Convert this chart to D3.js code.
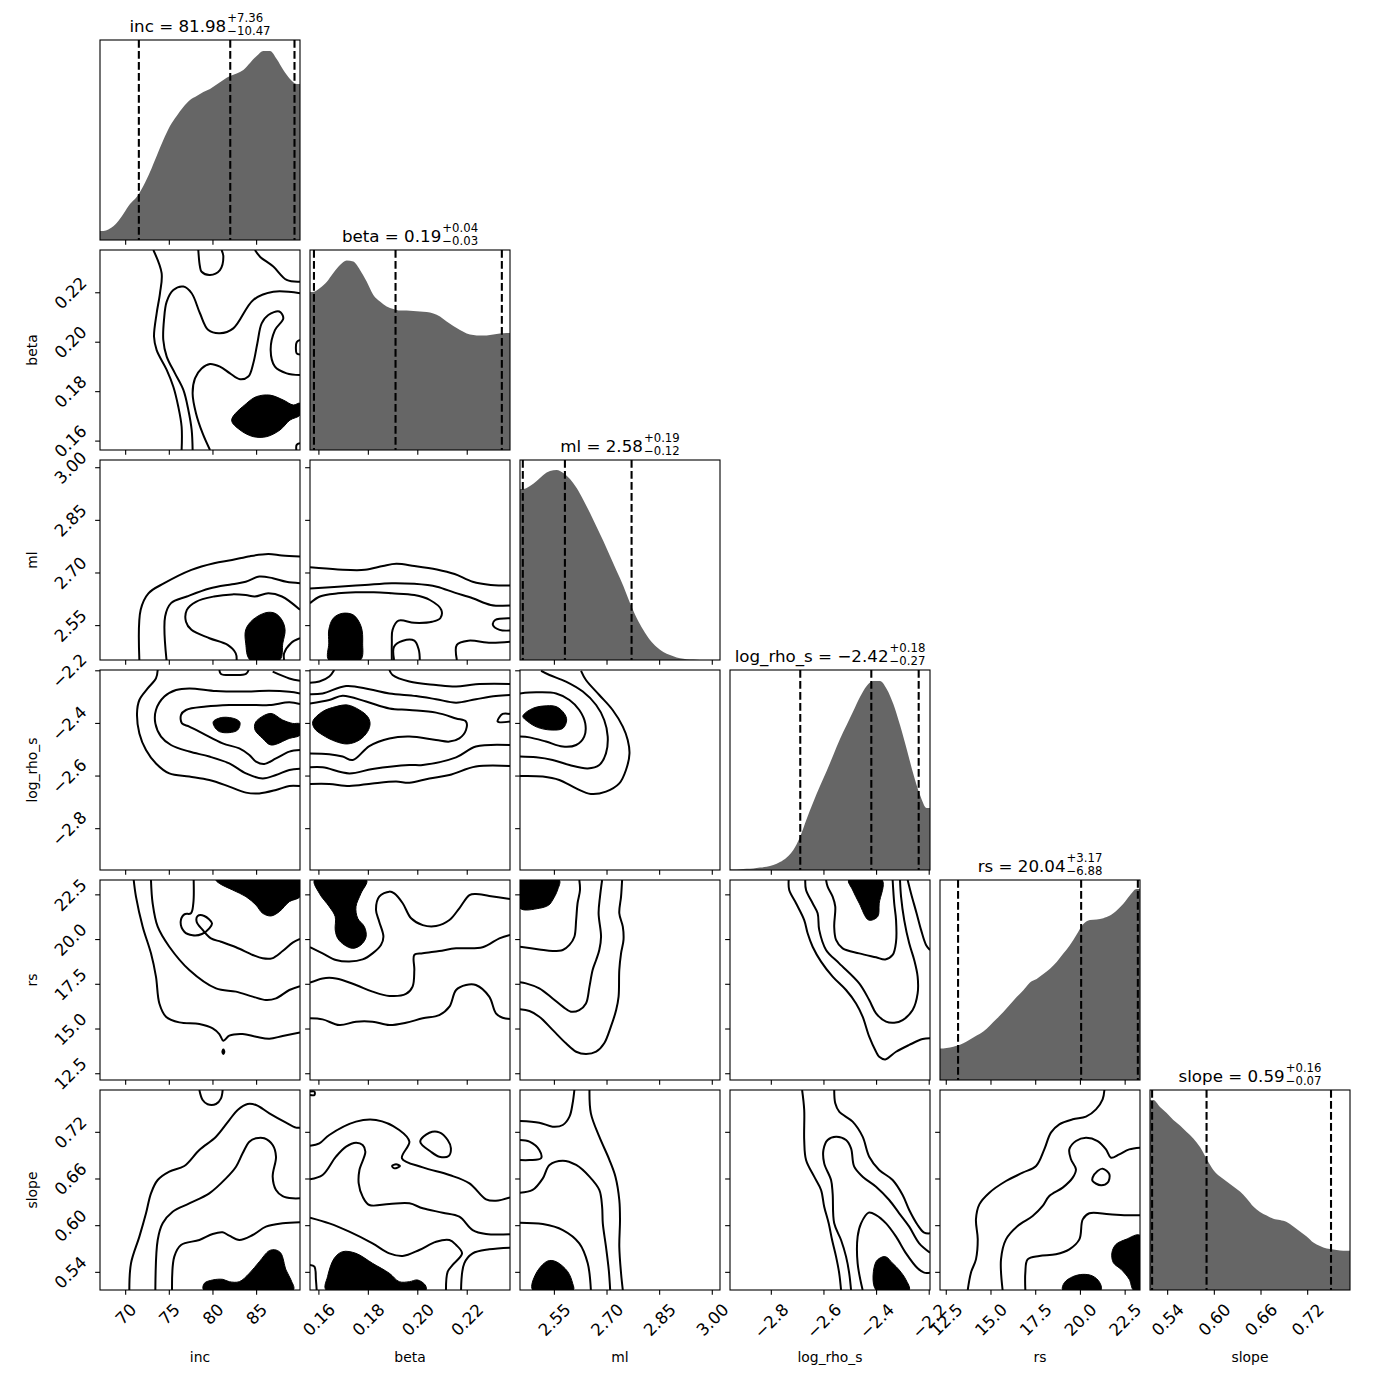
<!DOCTYPE html>
<html><head><meta charset="utf-8">
<script src="https://cdn.jsdelivr.net/npm/d3@7"></script>
<style>body{margin:0;background:#fff;} text{font-family:"DejaVu Sans",sans-serif;fill:#000;}</style>
</head><body>
<svg id="chart" width="1390" height="1390"></svg>
<script>
// ---------------- data ----------------
const params = ["inc", "beta", "ml", "log_rho_s", "rs", "slope"];
const ranges = [[67.06, 89.97], [0.1564, 0.2373], [2.452, 3.022], [-2.957, -2.197], [12.15, 23.33], [0.5173, 0.7744]];
const tickValues = [[70, 75, 80, 85], [0.16, 0.18, 0.20, 0.22], [2.55, 2.70, 2.85, 3.00], [-2.8, -2.6, -2.4, -2.2], [12.5, 15.0, 17.5, 20.0, 22.5], [0.54, 0.60, 0.66, 0.72]];
const tickLabels = [["70", "75", "80", "85"], ["0.16", "0.18", "0.20", "0.22"], ["2.55", "2.70", "2.85", "3.00"], ["\u22122.8", "\u22122.6", "\u22122.4", "\u22122.2"], ["12.5", "15.0", "17.5", "20.0", "22.5"], ["0.54", "0.60", "0.66", "0.72"]];
const titleMedian = ["81.98", "0.19", "2.58", "\u22122.42", "20.04", "0.59"];
const titlePlus = ["+7.36", "+0.04", "+0.19", "+0.18", "+3.17", "+0.16"];
const titleMinus = ["\u221210.47", "\u22120.03", "\u22120.12", "\u22120.27", "\u22126.88", "\u22120.07"];

const q_inc = [71.51, 81.98, 89.34];
const q_beta = [0.158, 0.191, 0.234];
const q_ml = [2.46, 2.58, 2.77];
const q_log = [-2.69, -2.42, -2.24];
const q_rs = [13.16, 20.04, 23.21];
const q_slope = [0.52, 0.59, 0.75];

// relative histogram heights (30 equal bins over each range)
const hist_inc = [0.045,0.057,0.085,0.13,0.18,0.215,0.27,0.34,0.42,0.50,0.57,0.62,0.665,0.70,0.72,0.74,0.755,0.777,0.80,0.82,0.833,0.85,0.885,0.92,0.945,0.945,0.905,0.85,0.805,0.78];
const hist_beta = [0.79,0.81,0.84,0.885,0.925,0.948,0.942,0.90,0.842,0.775,0.742,0.717,0.705,0.697,0.697,0.695,0.693,0.69,0.683,0.667,0.642,0.62,0.60,0.583,0.575,0.572,0.573,0.577,0.582,0.585];
const hist_ml = [0.855,0.87,0.895,0.925,0.945,0.95,0.935,0.905,0.86,0.80,0.735,0.665,0.595,0.52,0.445,0.37,0.285,0.21,0.15,0.10,0.065,0.04,0.025,0.013,0.006,0.002,0.001,0,0,0];
const hist_log = [0.003,0.004,0.006,0.008,0.012,0.016,0.025,0.04,0.063,0.10,0.165,0.255,0.34,0.42,0.495,0.575,0.655,0.725,0.795,0.865,0.92,0.945,0.945,0.905,0.83,0.725,0.605,0.48,0.375,0.31];
const hist_rs = [0.158,0.162,0.171,0.184,0.202,0.222,0.243,0.273,0.306,0.34,0.377,0.415,0.449,0.488,0.505,0.53,0.556,0.59,0.632,0.675,0.728,0.78,0.80,0.803,0.809,0.822,0.848,0.881,0.924,0.955];
const hist_slope = [0.95,0.915,0.885,0.85,0.822,0.79,0.758,0.715,0.655,0.60,0.567,0.543,0.518,0.492,0.458,0.418,0.39,0.372,0.356,0.35,0.34,0.318,0.293,0.268,0.238,0.22,0.207,0.203,0.198,0.196];

// contour lines [x, y] in data units (x = column parameter, y = row parameter)
const lines_beta_inc = [
 [[73.17,0.2373],[74.12,0.2279],[73.93,0.2198],[73.55,0.2117],[73.25,0.2022],[73.55,0.1968],[74.70,0.1888],[75.46,0.1820],[76.03,0.1739],[76.41,0.1658],[76.41,0.1564]],
 [[89.97,0.2198],[86.91,0.2204],[84.62,0.2171],[82.33,0.2056],[80.80,0.2036],[79.47,0.2049],[78.51,0.2117],[77.56,0.2198],[76.61,0.2225],[75.46,0.2211],[74.70,0.2164],[74.39,0.2090],[74.31,0.2009],[74.70,0.1942],[75.65,0.1874],[76.61,0.1807],[77.18,0.1726],[77.56,0.1645],[77.67,0.1564]],
 [[89.97,0.1867],[88.44,0.1874],[87.10,0.1901],[86.61,0.1968],[87.10,0.2049],[88.06,0.2097],[87.60,0.2124],[86.34,0.2110],[85.58,0.2076],[85.08,0.1995],[84.62,0.1915],[84.05,0.1861],[83.10,0.1850],[81.95,0.1874],[80.80,0.1901],[79.66,0.1912],[78.70,0.1894],[77.94,0.1854],[77.67,0.1793],[78.06,0.1712],[78.82,0.1631],[79.66,0.1564]],
 [[78.32,0.2373],[78.51,0.2306],[78.70,0.2285],[79.66,0.2272],[80.80,0.2292],[81.19,0.2346],[80.99,0.2373]],
 [[84.81,0.2373],[85.39,0.2346],[86.91,0.2306],[88.44,0.2252],[89.97,0.2245]],
 [[89.97,0.2009],[89.59,0.2000],[89.50,0.1975],[89.59,0.1955],[89.97,0.1950]],
 [[89.97,0.1591],[89.59,0.1585],[89.55,0.1564]]
];
const fills_beta_inc = [
 [[82.14,0.1685],[83.86,0.1753],[85.00,0.1780],[86.53,0.1786],[88.06,0.1766],[89.20,0.1746],[89.97,0.1753],[89.97,0.1706],[88.82,0.1685],[87.68,0.1645],[86.15,0.1618],[84.62,0.1618],[83.10,0.1645]]
];

const lines_ml_inc = [
 [[71.57,2.452],[71.72,2.595],[72.61,2.642],[74.42,2.671],[77.53,2.709],[80.12,2.728],[82.19,2.737],[84.27,2.748],[86.34,2.754],[87.90,2.750],[89.97,2.747]],
 [[74.68,2.452],[74.52,2.576],[75.20,2.614],[77.01,2.633],[79.60,2.656],[82.19,2.668],[83.75,2.675],[85.30,2.690],[86.86,2.685],[88.41,2.675],[89.97,2.671]],
 [[89.97,2.595],[87.90,2.633],[86.34,2.642],[84.79,2.633],[83.75,2.637],[82.19,2.639],[80.12,2.633],[78.05,2.618],[77.01,2.595],[76.91,2.561],[77.53,2.538],[79.60,2.514],[81.68,2.495],[82.61,2.471],[82.71,2.452]],
 [[89.97,2.514],[88.93,2.500],[88.15,2.471],[88.15,2.452]]
];
const fills_ml_inc = [
 [[83.75,2.538],[84.53,2.566],[86.08,2.587],[87.12,2.585],[87.90,2.566],[88.26,2.538],[88.00,2.500],[87.64,2.452],[84.27,2.452],[83.75,2.500]]
];

const lines_ml_beta = [
 [[0.1564,2.716],[0.1677,2.710],[0.1786,2.709],[0.1859,2.720],[0.1913,2.726],[0.1986,2.720],[0.2077,2.710],[0.2149,2.697],[0.2222,2.675],[0.2295,2.666],[0.2373,2.664]],
 [[0.1564,2.656],[0.1677,2.661],[0.1786,2.666],[0.1895,2.671],[0.1986,2.669],[0.2077,2.661],[0.2149,2.644],[0.2222,2.628],[0.2295,2.609],[0.2373,2.607]],
 [[0.1564,2.614],[0.1604,2.633],[0.1677,2.642],[0.1749,2.645],[0.1822,2.645],[0.1895,2.642],[0.1986,2.637],[0.2049,2.623],[0.2095,2.595],[0.2091,2.571],[0.2058,2.561],[0.1986,2.558],[0.1922,2.564],[0.1898,2.538],[0.1895,2.500],[0.1895,2.452]],
 [[0.1904,2.452],[0.1904,2.490],[0.1940,2.507],[0.1986,2.507],[0.2004,2.481],[0.2008,2.452]],
 [[0.2158,2.452],[0.2158,2.495],[0.2204,2.507],[0.2295,2.501],[0.2373,2.504]],
 [[0.2373,2.571],[0.2313,2.566],[0.2304,2.552],[0.2331,2.538],[0.2373,2.536]]
];
const fills_ml_beta = [
 [[0.1640,2.538],[0.1658,2.571],[0.1695,2.585],[0.1740,2.580],[0.1771,2.547],[0.1777,2.500],[0.1768,2.452],[0.1640,2.452],[0.1640,2.500]]
];

const lines_log_inc = [
 [[73.67,-2.197],[73.47,-2.229],[72.52,-2.267],[71.57,-2.311],[71.30,-2.362],[71.57,-2.438],[72.33,-2.501],[73.47,-2.552],[75.00,-2.590],[77.29,-2.602],[79.58,-2.615],[81.87,-2.640],[83.78,-2.663],[85.31,-2.666],[87.22,-2.653],[88.75,-2.638],[89.97,-2.638]],
 [[89.97,-2.286],[88.75,-2.280],[86.46,-2.276],[83.40,-2.279],[80.35,-2.277],[77.29,-2.267],[75.77,-2.273],[74.43,-2.298],[73.47,-2.349],[73.40,-2.400],[74.05,-2.450],[75.19,-2.482],[77.29,-2.507],[79.58,-2.526],[81.87,-2.552],[83.78,-2.590],[85.69,-2.609],[87.22,-2.596],[88.75,-2.577],[89.97,-2.572]],
 [[89.97,-2.326],[88.75,-2.320],[86.46,-2.330],[84.17,-2.330],[81.87,-2.330],[79.20,-2.336],[76.91,-2.349],[76.34,-2.368],[76.45,-2.400],[77.29,-2.412],[78.82,-2.438],[81.11,-2.476],[83.02,-2.495],[84.17,-2.520],[84.93,-2.545],[85.88,-2.554],[87.22,-2.533],[88.75,-2.507],[89.97,-2.501]],
 [[86.84,-2.203],[88.75,-2.229],[89.97,-2.238]],
 [[80.73,-2.197],[80.92,-2.212],[82.26,-2.216],[83.78,-2.212],[84.09,-2.197]]
];
const fills_log_inc = [
 [[80.04,-2.393],[81.11,-2.377],[82.64,-2.384],[83.10,-2.397],[82.83,-2.425],[81.87,-2.435],[80.73,-2.431],[80.16,-2.412]],
 [[84.82,-2.400],[85.31,-2.381],[86.65,-2.362],[87.98,-2.387],[89.13,-2.400],[89.97,-2.402],[89.97,-2.444],[88.75,-2.457],[86.65,-2.482],[85.69,-2.457],[84.82,-2.425]]
];

const lines_log_beta = [
 [[0.1564,-2.245],[0.1602,-2.241],[0.1642,-2.222],[0.1662,-2.197]],
 [[0.1885,-2.197],[0.1898,-2.216],[0.1966,-2.241],[0.2074,-2.254],[0.2155,-2.260],[0.2235,-2.251],[0.2373,-2.250]],
 [[0.1564,-2.630],[0.1642,-2.630],[0.1723,-2.638],[0.1817,-2.628],[0.1912,-2.621],[0.1966,-2.625],[0.2047,-2.609],[0.2128,-2.596],[0.2235,-2.564],[0.2373,-2.562]],
 [[0.1564,-2.289],[0.1615,-2.286],[0.1710,-2.258],[0.1804,-2.270],[0.1885,-2.286],[0.1993,-2.296],[0.2074,-2.308],[0.2155,-2.321],[0.2235,-2.308],[0.2316,-2.296],[0.2373,-2.292]],
 [[0.1564,-2.567],[0.1615,-2.567],[0.1723,-2.590],[0.1817,-2.573],[0.1966,-2.558],[0.2020,-2.558],[0.2155,-2.529],[0.2235,-2.488],[0.2373,-2.482]],
 [[0.1564,-2.324],[0.1642,-2.311],[0.1696,-2.295],[0.1791,-2.317],[0.1885,-2.343],[0.1966,-2.349],[0.2074,-2.359],[0.2155,-2.381],[0.2195,-2.393],[0.2195,-2.425],[0.2168,-2.457],[0.2128,-2.469],[0.2074,-2.463],[0.1966,-2.450],[0.1885,-2.457],[0.1804,-2.486],[0.1737,-2.539],[0.1696,-2.526],[0.1642,-2.517],[0.1564,-2.514]],
 [[0.2373,-2.364],[0.2343,-2.364],[0.2323,-2.393],[0.2373,-2.393]]
];
const fills_log_beta = [
 [[0.1575,-2.393],[0.1615,-2.355],[0.1669,-2.336],[0.1716,-2.330],[0.1764,-2.349],[0.1797,-2.374],[0.1807,-2.400],[0.1797,-2.431],[0.1764,-2.463],[0.1716,-2.478],[0.1669,-2.469],[0.1615,-2.444],[0.1582,-2.419]]
];

const lines_log_ml = [
 [[2.626,-2.200],[2.640,-2.235],[2.678,-2.292],[2.716,-2.349],[2.745,-2.412],[2.759,-2.463],[2.764,-2.514],[2.754,-2.577],[2.735,-2.628],[2.697,-2.659],[2.654,-2.668],[2.612,-2.647],[2.564,-2.615],[2.517,-2.602],[2.452,-2.600]],
 [[2.512,-2.200],[2.536,-2.216],[2.583,-2.241],[2.631,-2.279],[2.669,-2.330],[2.692,-2.387],[2.702,-2.450],[2.697,-2.514],[2.678,-2.558],[2.645,-2.571],[2.593,-2.558],[2.545,-2.539],[2.498,-2.529],[2.452,-2.526]],
 [[2.452,-2.286],[2.498,-2.282],[2.555,-2.286],[2.593,-2.311],[2.621,-2.349],[2.638,-2.400],[2.635,-2.450],[2.612,-2.482],[2.574,-2.488],[2.526,-2.469],[2.479,-2.453],[2.452,-2.450]]
];
const fills_log_ml = [
 [[2.464,-2.364],[2.488,-2.343],[2.517,-2.334],[2.555,-2.336],[2.578,-2.362],[2.585,-2.387],[2.574,-2.419],[2.540,-2.425],[2.502,-2.415],[2.474,-2.393],[2.460,-2.374]]
];

const lines_rs_inc = [
 [[70.92,23.33],[71.18,22.40],[71.95,20.72],[72.90,19.23],[73.47,17.93],[73.86,16.43],[74.62,15.69],[76.15,15.37],[78.44,15.28],[79.97,15.04],[80.73,14.72],[81.19,14.35],[81.87,14.63],[83.40,14.72],[84.93,14.57],[86.46,14.46],[87.98,14.61],[89.97,14.80]],
 [[81.19,13.86],[81.30,13.73],[81.19,13.60],[81.08,13.73],[81.19,13.86]],
 [[72.90,23.33],[73.09,22.03],[73.67,20.72],[75.00,19.60],[77.29,18.30],[80.35,17.27],[82.64,17.09],[84.55,16.81],[86.07,16.62],[87.22,16.71],[88.75,17.18],[89.97,17.40]],
 [[77.79,23.33],[77.75,22.03],[77.48,21.47],[76.72,21.41],[76.30,21.00],[76.72,20.44],[77.67,20.24],[78.74,20.31],[79.58,20.63],[79.89,20.91],[79.01,21.32],[78.25,21.32],[78.13,21.00],[78.82,20.54],[79.77,20.07],[80.92,19.88],[82.64,19.57],[84.55,19.14],[85.69,18.95],[86.76,18.95],[87.98,19.36],[89.13,19.83],[89.97,20.03]]
];
const fills_rs_inc = [
 [[80.35,23.33],[80.73,23.14],[82.26,22.77],[83.78,22.40],[84.93,21.93],[85.69,21.47],[86.65,21.32],[87.60,21.56],[88.75,22.12],[89.97,22.40],[89.97,23.33]]
];

const lines_rs_beta = [
 [[0.1564,19.57],[0.1615,19.23],[0.1669,18.86],[0.1723,18.77],[0.1777,18.89],[0.1817,19.23],[0.1851,19.70],[0.1861,20.16],[0.1844,21.00],[0.1831,21.65],[0.1844,22.40],[0.1885,22.68],[0.1905,22.58],[0.1939,22.03],[0.1973,21.19],[0.2020,20.81],[0.2074,20.76],[0.2128,21.09],[0.2168,21.75],[0.2209,22.49],[0.2235,22.55],[0.2289,22.44],[0.2373,22.27]],
 [[0.1564,17.59],[0.1615,17.83],[0.1669,17.83],[0.1750,17.46],[0.1817,17.09],[0.1885,16.85],[0.1952,16.96],[0.1979,17.37],[0.1986,18.30],[0.1986,19.14],[0.2020,19.23],[0.2087,19.36],[0.2155,19.51],[0.2262,19.57],[0.2330,20.07],[0.2373,20.26]],
 [[0.1564,15.60],[0.1615,15.54],[0.1683,15.22],[0.1750,15.41],[0.1817,15.41],[0.1885,15.22],[0.1952,15.35],[0.2020,15.60],[0.2087,15.78],[0.2128,16.25],[0.2155,17.18],[0.2195,17.46],[0.2235,17.46],[0.2289,16.81],[0.2316,15.88],[0.2343,15.63],[0.2373,15.56]]
];
const fills_rs_beta = [
 [[0.1582,23.33],[0.1602,22.58],[0.1642,21.84],[0.1666,21.28],[0.1666,20.54],[0.1676,20.07],[0.1703,19.70],[0.1737,19.51],[0.1770,19.70],[0.1791,20.16],[0.1784,20.72],[0.1757,21.19],[0.1750,21.84],[0.1770,22.58],[0.1793,23.33]]
];

const lines_rs_ml = [
 [[2.621,23.33],[2.623,22.77],[2.616,22.03],[2.612,21.09],[2.607,20.16],[2.593,19.70],[2.574,19.42],[2.545,19.36],[2.507,19.45],[2.452,19.60]],
 [[2.686,23.33],[2.680,22.40],[2.676,21.47],[2.683,20.16],[2.678,19.42],[2.669,18.86],[2.659,18.30],[2.650,17.37],[2.640,16.43],[2.621,16.06],[2.597,15.97],[2.574,16.25],[2.545,16.71],[2.507,17.27],[2.469,17.55],[2.452,17.61]],
 [[2.743,23.33],[2.740,22.40],[2.735,21.47],[2.745,20.72],[2.747,19.98],[2.740,19.23],[2.735,18.30],[2.733,16.81],[2.726,16.06],[2.711,15.13],[2.692,14.20],[2.669,13.73],[2.640,13.60],[2.612,13.73],[2.583,14.20],[2.545,14.95],[2.507,15.69],[2.479,16.01],[2.452,16.10]]
];
const fills_rs_ml = [
 [[2.452,23.33],[2.564,23.33],[2.559,22.77],[2.545,22.21],[2.534,21.93],[2.507,21.75],[2.452,21.75]]
];

const lines_rs_log = [
 [[-2.592,23.33],[-2.586,22.96],[-2.567,22.40],[-2.557,21.84],[-2.561,20.72],[-2.554,19.98],[-2.529,19.51],[-2.466,19.23],[-2.402,19.01],[-2.367,18.89],[-2.339,19.14],[-2.326,19.88],[-2.326,21.09],[-2.333,22.03],[-2.339,23.33]],
 [[-2.671,23.33],[-2.668,22.77],[-2.643,22.03],[-2.624,21.47],[-2.618,20.54],[-2.592,19.42],[-2.542,18.67],[-2.466,17.55],[-2.428,16.62],[-2.402,15.88],[-2.364,15.41],[-2.333,15.35],[-2.301,15.50],[-2.263,16.06],[-2.244,16.99],[-2.244,17.93],[-2.257,18.86],[-2.276,19.79],[-2.295,21.09],[-2.307,22.40],[-2.311,23.33]],
 [[-2.734,23.33],[-2.732,22.77],[-2.706,22.03],[-2.675,21.09],[-2.662,20.35],[-2.643,19.60],[-2.611,18.77],[-2.567,17.93],[-2.516,17.18],[-2.478,16.43],[-2.453,15.69],[-2.428,14.57],[-2.402,13.73],[-2.390,13.45],[-2.367,13.30],[-2.326,13.73],[-2.276,14.11],[-2.225,14.44],[-2.197,14.48]],
 [[-2.282,23.33],[-2.269,22.58],[-2.248,21.47],[-2.231,20.54],[-2.212,19.70],[-2.197,19.42]]
];
const fills_rs_log = [
 [[-2.506,23.33],[-2.491,22.77],[-2.466,22.03],[-2.430,21.09],[-2.396,21.28],[-2.390,22.03],[-2.379,23.33]]
];

const lines_slope_inc = [
 [[78.44,0.7744],[78.82,0.7615],[79.39,0.7560],[80.35,0.7564],[80.92,0.7637],[81.11,0.7744]],
 [[70.42,0.5173],[70.61,0.5516],[71.57,0.5859],[72.33,0.6159],[72.90,0.6416],[73.67,0.6587],[75.00,0.6694],[76.72,0.6767],[78.44,0.6973],[80.35,0.7144],[81.87,0.7358],[82.83,0.7487],[83.97,0.7564],[84.93,0.7551],[86.46,0.7444],[88.37,0.7324],[89.51,0.7260],[89.97,0.7260]],
 [[73.40,0.5173],[73.67,0.5816],[74.24,0.6030],[75.38,0.6180],[77.29,0.6287],[79.58,0.6416],[81.49,0.6608],[82.64,0.6758],[83.40,0.6930],[84.17,0.7080],[84.93,0.7123],[85.88,0.7123],[86.84,0.7037],[87.22,0.6887],[86.84,0.6630],[87.22,0.6459],[87.98,0.6381],[89.13,0.6351],[89.97,0.6351]],
 [[75.31,0.5173],[75.57,0.5602],[76.34,0.5752],[78.44,0.5816],[79.97,0.5893],[81.11,0.5914],[81.87,0.5871],[83.02,0.5816],[84.55,0.5880],[86.07,0.5987],[87.98,0.6030],[89.97,0.6043]]
];
const fills_slope_inc = [
 [[78.93,0.5173],[79.01,0.5259],[79.97,0.5302],[81.11,0.5310],[81.87,0.5280],[83.02,0.5280],[84.17,0.5388],[85.31,0.5537],[86.46,0.5679],[87.22,0.5687],[87.79,0.5644],[88.37,0.5430],[88.94,0.5302],[89.21,0.5173]]
];

const lines_slope_beta = [
 [[0.1564,0.7723],[0.1582,0.7723],[0.1582,0.7680],[0.1564,0.7680]],
 [[0.1564,0.7028],[0.1602,0.7058],[0.1642,0.7166],[0.1750,0.7337],[0.1831,0.7358],[0.1925,0.7230],[0.1966,0.7080],[0.1936,0.6866],[0.2020,0.6750],[0.2128,0.6651],[0.2209,0.6544],[0.2276,0.6339],[0.2316,0.6321],[0.2373,0.6364]],
 [[0.1564,0.6596],[0.1615,0.6651],[0.1669,0.6887],[0.1710,0.7016],[0.1750,0.7067],[0.1777,0.7037],[0.1788,0.6951],[0.1764,0.6716],[0.1761,0.6544],[0.1777,0.6373],[0.1804,0.6266],[0.1885,0.6279],[0.1966,0.6287],[0.2020,0.6223],[0.2101,0.6167],[0.2168,0.6116],[0.2222,0.5944],[0.2276,0.5893],[0.2373,0.5889]],
 [[0.1564,0.6103],[0.1642,0.6030],[0.1723,0.5923],[0.1817,0.5773],[0.1885,0.5644],[0.1939,0.5610],[0.2006,0.5687],[0.2074,0.5794],[0.2128,0.5816],[0.2155,0.5752],[0.2179,0.5644],[0.2141,0.5495],[0.2121,0.5409],[0.2114,0.5173]],
 [[0.2175,0.5173],[0.2188,0.5516],[0.2222,0.5644],[0.2289,0.5696],[0.2373,0.5717]],
 [[0.1564,0.5495],[0.1582,0.5473],[0.1588,0.5302],[0.1591,0.5173]],
 [[0.2010,0.7080],[0.2047,0.7195],[0.2087,0.7200],[0.2121,0.7101],[0.2134,0.6994],[0.2125,0.6896],[0.2087,0.6887],[0.2053,0.6951],[0.2010,0.7080]],
 [[0.1896,0.6767],[0.1912,0.6788],[0.1928,0.6767],[0.1905,0.6737],[0.1896,0.6767]]
];
const fills_slope_beta = [
 [[0.1629,0.5173],[0.1635,0.5345],[0.1662,0.5580],[0.1696,0.5666],[0.1750,0.5644],[0.1817,0.5516],[0.1885,0.5388],[0.1925,0.5280],[0.1966,0.5280],[0.1999,0.5302],[0.2030,0.5237],[0.2033,0.5173]]
];

const lines_slope_ml = [
 [[2.650,0.7744],[2.654,0.7444],[2.678,0.7144],[2.707,0.6844],[2.724,0.6630],[2.735,0.6330],[2.737,0.6073],[2.735,0.5730],[2.740,0.5388],[2.745,0.5173]],
 [[2.607,0.7744],[2.602,0.7573],[2.593,0.7401],[2.574,0.7294],[2.545,0.7273],[2.507,0.7324],[2.452,0.7346]],
 [[2.452,0.6424],[2.488,0.6459],[2.517,0.6608],[2.536,0.6780],[2.574,0.6836],[2.612,0.6780],[2.650,0.6630],[2.678,0.6459],[2.686,0.6244],[2.688,0.6030],[2.697,0.5730],[2.705,0.5430],[2.709,0.5173]],
 [[2.452,0.7101],[2.479,0.7080],[2.507,0.6973],[2.512,0.6866],[2.479,0.6844],[2.452,0.6844]],
 [[2.452,0.6039],[2.517,0.6021],[2.574,0.5944],[2.621,0.5773],[2.645,0.5516],[2.654,0.5173]]
];
const fills_slope_ml = [
 [[2.488,0.5173],[2.498,0.5388],[2.531,0.5546],[2.555,0.5537],[2.588,0.5409],[2.602,0.5259],[2.604,0.5173]]
];

const lines_slope_log = [
 [[-2.683,0.7744],[-2.675,0.7487],[-2.675,0.7101],[-2.668,0.6844],[-2.637,0.6630],[-2.611,0.6459],[-2.599,0.6244],[-2.582,0.6030],[-2.569,0.5816],[-2.554,0.5602],[-2.542,0.5388],[-2.535,0.5173]],
 [[-2.561,0.7744],[-2.557,0.7573],[-2.542,0.7465],[-2.491,0.7337],[-2.453,0.7144],[-2.428,0.6887],[-2.390,0.6716],[-2.339,0.6587],[-2.301,0.6394],[-2.276,0.6201],[-2.244,0.6009],[-2.219,0.5910],[-2.197,0.5901]],
 [[-2.497,0.5173],[-2.504,0.5388],[-2.516,0.5602],[-2.535,0.5816],[-2.561,0.6030],[-2.567,0.6416],[-2.573,0.6587],[-2.599,0.6801],[-2.602,0.6973],[-2.586,0.7101],[-2.554,0.7144],[-2.516,0.7101],[-2.497,0.6994],[-2.485,0.6758],[-2.453,0.6630],[-2.402,0.6501],[-2.352,0.6330],[-2.314,0.6159],[-2.276,0.5987],[-2.238,0.5773],[-2.197,0.5653]],
 [[-2.453,0.5173],[-2.472,0.5516],[-2.472,0.5859],[-2.459,0.6030],[-2.430,0.6167],[-2.402,0.6137],[-2.364,0.6030],[-2.326,0.5859],[-2.288,0.5644],[-2.244,0.5452],[-2.219,0.5396],[-2.197,0.5396]]
];
const fills_slope_log = [
 [[-2.402,0.5173],[-2.402,0.5537],[-2.367,0.5602],[-2.339,0.5516],[-2.314,0.5430],[-2.288,0.5302],[-2.276,0.5173]]
];

const lines_slope_rs = [
 [[21.34,0.7744],[21.24,0.7624],[20.87,0.7495],[20.31,0.7401],[19.57,0.7367],[18.82,0.7303],[18.35,0.7196],[17.98,0.6981],[17.52,0.6767],[16.77,0.6681],[15.84,0.6574],[14.91,0.6424],[14.35,0.6274],[14.16,0.6081],[14.26,0.5824],[14.16,0.5567],[13.88,0.5396],[13.70,0.5173]],
 [[15.65,0.5173],[15.56,0.5567],[15.84,0.5824],[16.49,0.5996],[17.33,0.6124],[17.89,0.6253],[18.26,0.6381],[19.01,0.6489],[19.57,0.6617],[19.75,0.6724],[19.47,0.6853],[19.38,0.6981],[19.75,0.7088],[20.31,0.7131],[20.96,0.7088],[21.43,0.6981],[21.71,0.6874],[22.17,0.6917],[22.73,0.6981],[23.33,0.7003]],
 [[16.92,0.5173],[16.92,0.5396],[17.05,0.5567],[17.70,0.5610],[18.63,0.5632],[19.38,0.5696],[19.94,0.5824],[20.13,0.6081],[20.50,0.6159],[21.62,0.6146],[22.73,0.6133],[23.33,0.6133]],
 [[20.68,0.6617],[20.96,0.6703],[21.24,0.6733],[21.62,0.6660],[21.52,0.6553],[21.15,0.6519],[20.68,0.6574],[20.68,0.6617]]
];
const fills_slope_rs = [
 [[23.33,0.5876],[22.55,0.5824],[21.99,0.5760],[21.76,0.5653],[21.84,0.5524],[22.27,0.5439],[22.73,0.5310],[22.96,0.5173],[23.33,0.5173]],
 [[19.01,0.5173],[19.10,0.5267],[19.57,0.5344],[20.13,0.5374],[20.68,0.5353],[21.06,0.5276],[21.15,0.5173]]
];

// ---------------- layout ----------------
const P = 200, GAP = 10, LEFT = 100, TOP = 40;
const FS = 13.9, TICK_FS = 16.7, TITLE_FS = 16.7, SCRIPT_FS = 11.7, TICK = 4.86, PAD = 4.86;
const colX = i => LEFT + i * (P + GAP);
const rowY = j => TOP + j * (P + GAP);

const hists = [hist_inc, hist_beta, hist_ml, hist_log, hist_rs, hist_slope];
const quants = [q_inc, q_beta, q_ml, q_log, q_rs, q_slope];
const panels = [
  {r:1,c:0,lines:lines_beta_inc,fills:fills_beta_inc},
  {r:2,c:0,lines:lines_ml_inc,fills:fills_ml_inc},
  {r:2,c:1,lines:lines_ml_beta,fills:fills_ml_beta},
  {r:3,c:0,lines:lines_log_inc,fills:fills_log_inc},
  {r:3,c:1,lines:lines_log_beta,fills:fills_log_beta},
  {r:3,c:2,lines:lines_log_ml,fills:fills_log_ml},
  {r:4,c:0,lines:lines_rs_inc,fills:fills_rs_inc},
  {r:4,c:1,lines:lines_rs_beta,fills:fills_rs_beta},
  {r:4,c:2,lines:lines_rs_ml,fills:fills_rs_ml},
  {r:4,c:3,lines:lines_rs_log,fills:fills_rs_log},
  {r:5,c:0,lines:lines_slope_inc,fills:fills_slope_inc},
  {r:5,c:1,lines:lines_slope_beta,fills:fills_slope_beta},
  {r:5,c:2,lines:lines_slope_ml,fills:fills_slope_ml},
  {r:5,c:3,lines:lines_slope_log,fills:fills_slope_log},
  {r:5,c:4,lines:lines_slope_rs,fills:fills_slope_rs}
];

const svg = d3.select("#chart");
svg.append("rect").attr("width",1390).attr("height",1390).attr("fill","#fff");
const defs = svg.append("defs");

function xScale(c){ return d3.scaleLinear().domain(ranges[c]).range([colX(c), colX(c)+P]); }
function yScale(r){ return d3.scaleLinear().domain(ranges[r]).range([rowY(r)+P, rowY(r)]); }

function clipFor(r,c){
  const id = `clip-${r}-${c}`;
  defs.append("clipPath").attr("id", id).append("rect")
    .attr("x", colX(c)).attr("y", rowY(r)).attr("width", P).attr("height", P);
  return `url(#${id})`;
}

function drawFrame(r, c, x, y, withY){
  const g = svg.append("g");
  const x0 = colX(c), y0 = rowY(r);
  tickValues[c].forEach(v => {
    g.append("line").attr("x1", x(v)).attr("x2", x(v)).attr("y1", y0+P).attr("y2", y0+P+TICK)
      .attr("stroke","#000").attr("stroke-width",1.1);
  });
  if (withY) {
    tickValues[r].forEach(v => {
      g.append("line").attr("y1", y(v)).attr("y2", y(v)).attr("x1", x0).attr("x2", x0-TICK)
        .attr("stroke","#000").attr("stroke-width",1.1);
    });
  }
  g.append("rect").attr("x", x0).attr("y", y0).attr("width", P).attr("height", P)
    .attr("fill","none").attr("stroke","#000").attr("stroke-width",1.1);
}

// ---- diagonal histograms ----
for (let i = 0; i < 6; i++) {
  const x = xScale(i);
  const y = d3.scaleLinear().domain([0, 1]).range([rowY(i)+P, rowY(i)]);
  const vals = hists[i];
  const [lo, hi] = ranges[i];
  const step = (hi - lo) / vals.length;
  const pts = [[lo, vals[0]]].concat(vals.map((v, k) => [lo + (k + 0.5) * step, v]), [[hi, vals[vals.length-1]]]);
  const g = svg.append("g").attr("clip-path", clipFor(i, i));
  g.append("path").datum(pts)
    .attr("d", d3.area().x(d => x(d[0])).y0(y(0)).y1(d => y(d[1])).curve(d3.curveMonotoneX))
    .attr("fill", "#666666");
  quants[i].forEach(q => {
    g.append("line").attr("x1", x(q)).attr("x2", x(q)).attr("y1", rowY(i)).attr("y2", rowY(i)+P)
      .attr("stroke", "#000").attr("stroke-width", 2.08).attr("stroke-dasharray", "7.7,3.3");
  });
  drawFrame(i, i, x, y, false);

  // title
  const cx = colX(i) + P/2, by = rowY(i);
  const tg = svg.append("g");
  const main = tg.append("text").attr("font-size", TITLE_FS).attr("y", by - 8.3)
    .text(`${params[i]} = ${titleMedian[i]}`);
  const sup = tg.append("text").attr("font-size", SCRIPT_FS).attr("y", by - 18.5).text(titlePlus[i]);
  const sub = tg.append("text").attr("font-size", SCRIPT_FS).attr("y", by - 4.8).text(titleMinus[i]);
  const wm = main.node().getComputedTextLength();
  const ws = Math.max(sup.node().getComputedTextLength(), sub.node().getComputedTextLength());
  const start = cx - (wm + 1 + ws) / 2;
  main.attr("x", start);
  sup.attr("x", start + wm + 1);
  sub.attr("x", start + wm + 1);
}

// ---- 2D contour panels ----
const lineGen = (x, y) => d3.line().x(d => x(d[0])).y(d => y(d[1])).curve(d3.curveCatmullRom.alpha(0.5));
const closedGen = (x, y) => d3.line().x(d => x(d[0])).y(d => y(d[1])).curve(d3.curveCatmullRomClosed.alpha(0.5));

panels.forEach(p => {
  const x = xScale(p.c), y = yScale(p.r);
  const g = svg.append("g").attr("clip-path", clipFor(p.r, p.c));
  p.fills.forEach(f => {
    g.append("path").datum(f).attr("d", closedGen(x, y)).attr("fill", "#000").attr("stroke", "#000").attr("stroke-width", 1);
  });
  p.lines.forEach(l => {
    const first = l[0], last = l[l.length-1];
    const closed = l.length > 3 && first[0] === last[0] && first[1] === last[1];
    const gen = closed ? closedGen(x, y) : lineGen(x, y);
    const data = closed ? l.slice(0, -1) : l;
    g.append("path").datum(data).attr("d", gen).attr("fill", "none")
      .attr("stroke", "#000").attr("stroke-width", 2).attr("stroke-linejoin", "round");
  });
  drawFrame(p.r, p.c, x, y, true);
});

// ---- tick labels ----
function measure(txt, fs){
  const t = svg.append("text").attr("font-size", fs).text(txt);
  const w = t.node().getComputedTextLength();
  t.remove();
  return w;
}
const H_TXT = TICK_FS * 1.16;
for (let c = 0; c < 6; c++) {
  const x = xScale(c);
  tickValues[c].forEach((v, k) => {
    const lab = tickLabels[c][k];
    const w = measure(lab, TICK_FS);
    const B = (w + H_TXT) / Math.SQRT2;
    const cx = x(v), cy = rowY(5) + P + TICK + PAD + B/2;
    svg.append("text").attr("font-size", TICK_FS).attr("text-anchor", "middle").attr("dominant-baseline", "central")
      .attr("transform", `translate(${cx},${cy}) rotate(-45)`).text(lab);
  });
}
for (let r = 1; r < 6; r++) {
  const y = yScale(r);
  tickValues[r].forEach((v, k) => {
    const lab = tickLabels[r][k];
    const w = measure(lab, TICK_FS);
    const B = (w + H_TXT) / Math.SQRT2;
    const cx = LEFT - TICK - PAD - B/2, cy = y(v);
    svg.append("text").attr("font-size", TICK_FS).attr("text-anchor", "middle").attr("dominant-baseline", "central")
      .attr("transform", `translate(${cx},${cy}) rotate(-45)`).text(lab);
  });
}

// ---- axis labels ----
for (let c = 0; c < 6; c++) {
  svg.append("text").attr("font-size", FS).attr("text-anchor", "middle")
    .attr("x", colX(c) + P/2).attr("y", rowY(5) + P + 72).text(params[c]);
}
for (let r = 1; r < 6; r++) {
  svg.append("text").attr("font-size", FS).attr("text-anchor", "middle")
    .attr("transform", `translate(37,${rowY(r) + P/2}) rotate(-90)`).text(params[r]);
}
</script></body></html>
